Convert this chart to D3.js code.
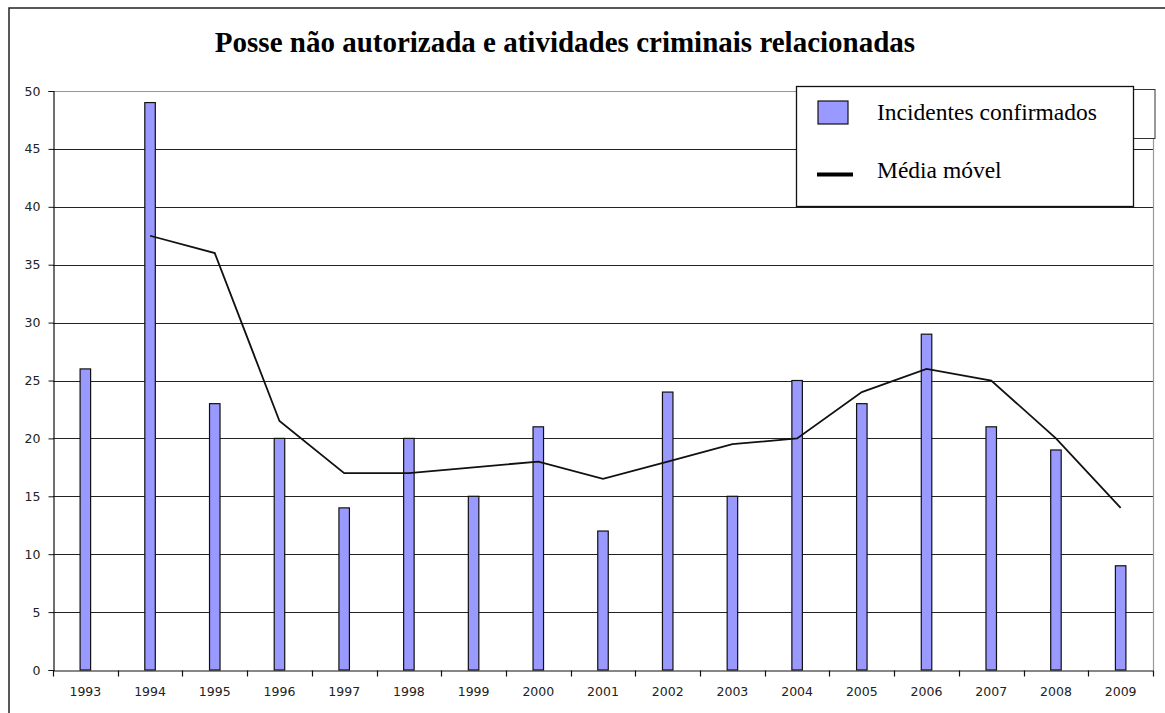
<!DOCTYPE html>
<html><head><meta charset="utf-8">
<script src="https://cdn.jsdelivr.net/npm/d3@7"></script>
<style>body{margin:0;background:#fff}svg{display:block}</style>
</head><body>
<script>
const years = ["1993","1994","1995","1996","1997","1998","1999","2000","2001","2002","2003","2004","2005","2006","2007","2008","2009"];
const incidents = [26,49,23,20,14,20,15,21,12,24,15,25,23,29,21,19,9];
const movingAvgYears = ["1994","1995","1996","1997","1998","1999","2000","2001","2002","2003","2004","2005","2006","2007","2008","2009"];
const movingAvg = [37.5,36,21.5,17,17,17.5,18,16.5,18,19.5,20,24,26,25,20,14];
const yTicks = [0,5,10,15,20,25,30,35,40,45,50];
const titleText = "Posse não autorizada e atividades criminais relacionadas";
const legendLabels = ["Incidentes confirmados","Média móvel"];

const W=1165,H=713;
const svg=d3.select("body").append("svg").attr("width",W).attr("height",H);
// outer frame
svg.append("rect").attr("x",9).attr("y",8).attr("width",1170).attr("height",720)
  .attr("fill","none").attr("stroke","#222").attr("stroke-width",1.5);

const L=53,R=1153,T=91,B=670;
const x=d3.scaleBand().domain(years).range([L,R]).padding(0);
const y=d3.scaleLinear().domain([0,50]).range([B,T]);

// gridlines
svg.append("g").selectAll("line").data(yTicks.filter(d=>d>0)).join("line")
  .attr("x1",L).attr("x2",R).attr("y1",d=>Math.round(y(d))+0.5).attr("y2",d=>Math.round(y(d))+0.5)
  .attr("stroke",d=>d===50?"#999":"#222").attr("stroke-width",1.2);
// right border
svg.append("line").attr("x1",R+0.5).attr("x2",R+0.5).attr("y1",T).attr("y2",B)
  .attr("stroke","#999").attr("stroke-width",1.2);

// bars
const bw=10.5;
svg.append("g").selectAll("rect").data(years).join("rect")
  .attr("x",(d)=>x(d)+x.bandwidth()/2-bw/2)
  .attr("y",(d,i)=>y(incidents[i]))
  .attr("width",bw)
  .attr("height",(d,i)=>B-y(incidents[i]))
  .attr("fill","#9999FF").attr("stroke","#111").attr("stroke-width",1.2);

// moving average line
const line=d3.line().x((d,i)=>x(movingAvgYears[i])+x.bandwidth()/2).y(d=>y(d));
svg.append("path").datum(movingAvg).attr("d",line).attr("fill","none")
  .attr("stroke","#111").attr("stroke-width",1.8);

const tickFont="'DejaVu Sans', Verdana, sans-serif";
// y axis
const yAxis=d3.axisLeft(y).tickValues(yTicks).tickSize(5).tickPadding(8);
const gy=svg.append("g").attr("transform",`translate(${L+0.5},0)`).call(yAxis);
gy.select(".domain").attr("stroke","#111").attr("stroke-width",1.2);
gy.selectAll(".tick line").attr("stroke","#111");
gy.selectAll("text").attr("font-family",tickFont).attr("font-size",12.5).attr("fill","#222");

// x axis
const xAxis=d3.axisBottom(x).tickSize(0).tickPadding(17);
const gx=svg.append("g").attr("transform",`translate(0,${B+0.5})`).call(xAxis);
gx.select(".domain").attr("stroke","#111").attr("stroke-width",1.2);
gx.selectAll("text").attr("font-family",tickFont).attr("font-size",12.5).attr("fill","#222");
// boundary ticks
const bounds=years.map(d=>x(d)).concat([R]);
gx.append("g").selectAll("line").data(bounds).join("line")
  .attr("x1",d=>Math.round(d)+0.5).attr("x2",d=>Math.round(d)+0.5).attr("y1",0).attr("y2",6)
  .attr("stroke","#111").attr("stroke-width",1.2);

// title
svg.append("text").attr("x",565).attr("y",52).attr("text-anchor","middle")
  .attr("font-family","'Liberation Serif','Times New Roman',serif").attr("font-weight","bold")
  .attr("font-size",29).attr("fill","#000").text(titleText);

// legend artifact box behind
svg.append("rect").attr("x",1133).attr("y",89.5).attr("width",22).attr("height",49)
  .attr("fill","#fff").attr("stroke","#333").attr("stroke-width",1);
// legend box
const lg=svg.append("g");
lg.append("rect").attr("x",796.5).attr("y",86.5).attr("width",337).attr("height",120)
  .attr("fill","#fff").attr("stroke","#111").attr("stroke-width",1.3);
lg.append("rect").attr("x",818).attr("y",101).attr("width",30).attr("height",23)
  .attr("fill","#9999FF").attr("stroke","#111").attr("stroke-width",1.2);
lg.append("line").attr("x1",817).attr("x2",853).attr("y1",174.5).attr("y2",174.5)
  .attr("stroke","#000").attr("stroke-width",4);
lg.selectAll("text").data(legendLabels).join("text")
  .attr("x",877).attr("y",(d,i)=>i===0?120:178)
  .attr("font-family","'Liberation Serif','Times New Roman',serif").attr("font-size",23.5)
  .attr("fill","#000").text(d=>d);
</script>
</body></html>
